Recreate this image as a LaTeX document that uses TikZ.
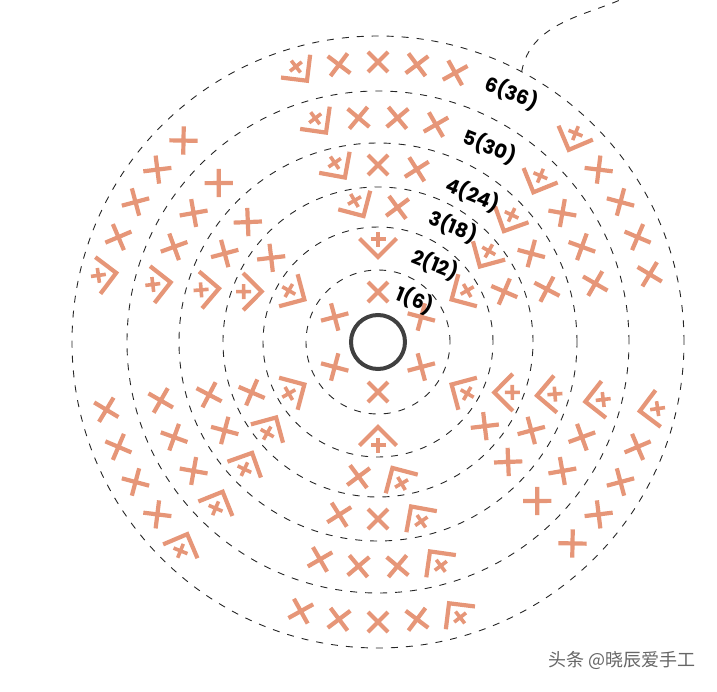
\documentclass[tikz,border=0pt]{standalone}
\usepackage{fontspec}
\setmainfont{Poppins}
\newfontfamily\cjk{Noto Sans CJK SC}
\definecolor{yarn}{RGB}{230,150,120}
\definecolor{ring}{RGB}{64,64,64}
\tikzset{
  guide/.style={black!85,line width=0.9pt,dash pattern=on 7pt off 8pt},
  lab/.style={rotate=-22,inner sep=0pt,font=\bfseries\fontsize{19.5}{19.5}\selectfont},
  sc/.pic={\draw[yarn,line width=4.2pt](-10,-10) -- (10,10) (-10,10) -- (10,-10);},
  inc/.pic={\draw[yarn,line width=4.2pt](-18.5,8.5) -- (0,-10) -- (18.5,8.5);
    \draw[yarn,line width=3.6pt](-7.5,8) -- (7.5,8) (0,0.5) -- (0,15.5);}
}
\begin{document}
\begin{tikzpicture}[x=1pt,y=1pt]
  \useasboundingbox(-378,-349) rectangle (339,342);
  \foreach \r in {72,115,155,199,251,306}
    \draw[guide](0,0) circle (\r);
  \draw[guide](62:306) .. controls (152,318) and (205,326) .. (242,342);
  \draw[ring,line width=4pt](0,0) circle (27);
  \foreach \s in {0,...,5}{
    \pgfmathsetmacro\c{90+60*\s}
    \pic[rotate=\c-90] at (\c:50) {sc};
    \pic[rotate=\c-90] at (\c:95) {inc};
    \foreach \n/\r in {3/136,4/177,5/225,6/280}{
      \pgfmathsetmacro\d{2240/\r}
      \pgfmathsetmacro\a{\c+(\n-2)/2*\d}
      \pgfmathtruncatemacro\m{\n-2}
      \pic[rotate=\a-68] at (\a:\r) {inc};
      \foreach \k in {1,...,\m}
        \pic[rotate=\a-\k*\d-90] at ({\a-\k*\d}:\r) {sc};
    }
  }
  \foreach \t/\x/\y [count=\i] in {1(6)/37/42,2(12)/57/77,3(18)/75/115,4(24)/95/147,5(30)/112/195,6(36)/134/249}
    \node[lab](row\i) at (\x,\y) {\t};
  \node[font=\cjk\fontsize{18}{18}\selectfont,text=black!60](mark) at (244,-318) {头条 @晓辰爱手工};
\end{tikzpicture}
\end{document}
